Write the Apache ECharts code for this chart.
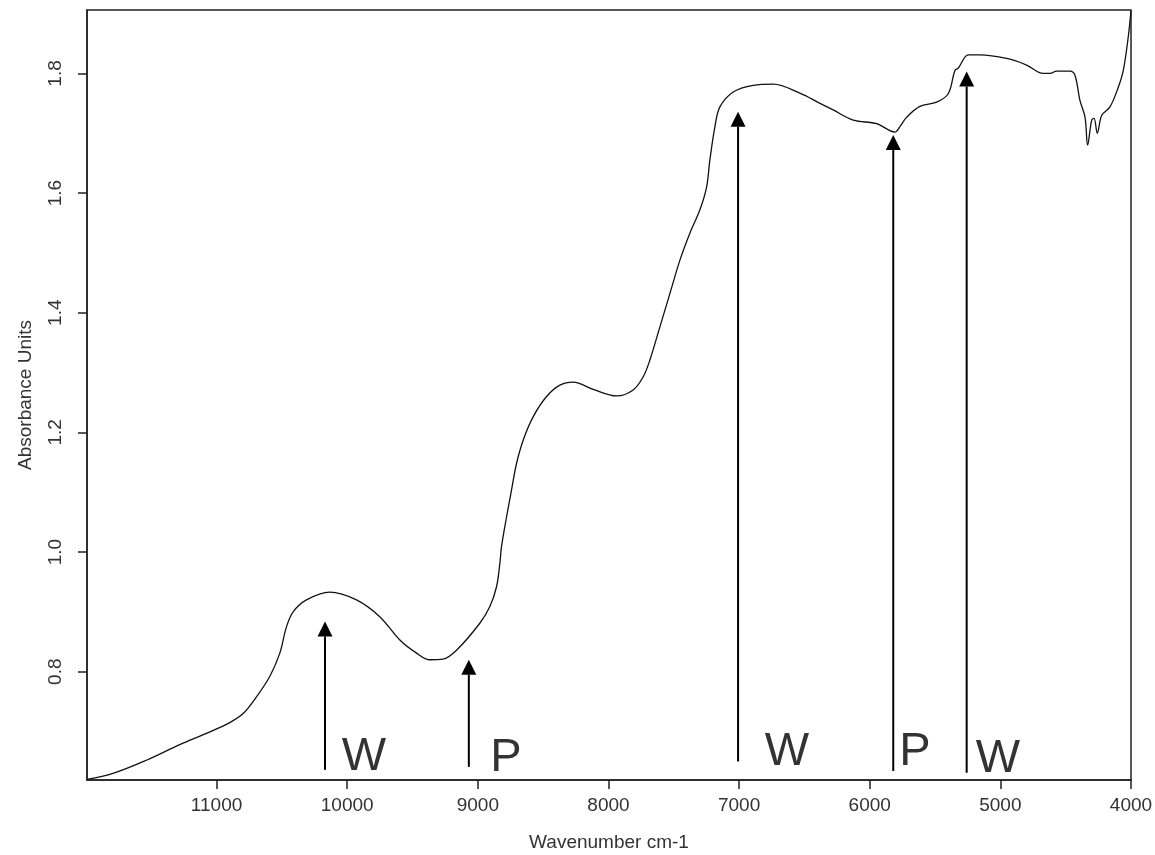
<!DOCTYPE html>
<html>
<head>
<meta charset="utf-8">
<script src="https://cdn.jsdelivr.net/npm/echarts@6/dist/echarts.min.js"></script>
<style>html,body{margin:0;padding:0;background:#fff}#c{width:1155px;height:855px}</style>
</head>
<body>
<div id="c"></div>
<script>
// Spectrum (wavenumber, absorbance)
const wavenumbers = [11992,11793,11537,11282,11078,10899,10797,10695,10593,10516,10465,10414,10312,10134,9929,9751,9597,9469,9367,9268,9163,8985,8908,8857,8831,8819,8780,8742,8704,8653,8577,8474,8372,8270,8117,7938,7811,7734,7683,7607,7530,7453,7377,7300,7249,7224,7185,7147,7045,6892,6739,6535,6381,6280,6126,5947,5807,5769,5717,5616,5488,5399,5348,5322,5246,5156,4952,4799,4672,4620,4569,4467,4429,4391,4352,4332,4301,4283,4258,4224,4161,4097,4059,4021,4000];
const absorbance = [0.620,0.630,0.652,0.678,0.697,0.715,0.730,0.758,0.792,0.831,0.875,0.900,0.920,0.933,0.920,0.892,0.853,0.831,0.820,0.821,0.836,0.881,0.909,0.942,0.982,1.009,1.059,1.104,1.148,1.187,1.226,1.260,1.279,1.284,1.272,1.261,1.271,1.293,1.321,1.376,1.432,1.488,1.533,1.572,1.610,1.655,1.711,1.744,1.769,1.780,1.782,1.767,1.750,1.739,1.722,1.716,1.702,1.711,1.727,1.745,1.752,1.766,1.805,1.809,1.831,1.831,1.825,1.814,1.800,1.800,1.804,1.804,1.797,1.755,1.727,1.680,1.722,1.725,1.700,1.730,1.744,1.777,1.805,1.861,1.905];

// Axis ticks
const xTicks = [4000,5000,6000,7000,8000,9000,10000,11000];
const yTicks = [0.8,1.0,1.2,1.4,1.6,1.8];
const xRange = [4000, 11992];
const yRange = [0.619, 1.906];

// Annotation arrows: wavenumber, base absorbance, tip absorbance
const arrowX = [10170, 9069, 7008, 5820, 5258];
const arrowBase = [0.636, 0.641, 0.650, 0.634, 0.631];
const arrowTip = [0.884, 0.820, 1.736, 1.697, 1.803];

// Annotation letters
const labelText = ['W','P','W','P','W'];
const labelX = [9873, 8786, 6634, 5654, 5018];
const labelY = [0.657, 0.656, 0.665, 0.665, 0.654];

const spectrum = wavenumbers.map((w,i)=>[w, absorbance[i]]);
const arrows = arrowX.map((x,i)=>[x, arrowBase[i], arrowTip[i]]);
const letters = labelX.map((x,i)=>({value:[x, labelY[i]], name: labelText[i]}));

const FONT = '"Liberation Sans", Arial, sans-serif';
const chart = echarts.init(document.getElementById('c'), null, {renderer:'canvas'});
chart.setOption({
  animation: false,
  backgroundColor: '#fff',
  grid: {left: 87, right: 24, top: 10, bottom: 75, containLabel: false, outerBoundsMode: 'none',
         show: true, borderColor: '#222', borderWidth: 1.5, backgroundColor: 'transparent'},
  xAxis: {
    type: 'value', inverse: true, min: xRange[0], max: xRange[1],
    name: 'Wavenumber cm-1', nameLocation: 'middle', nameGap: 53,
    nameTextStyle: {fontFamily: FONT, fontSize: 19, color: '#333'},
    axisLine: {show: true, lineStyle: {color: '#222', width: 1.5}},
    axisTick: {show: true, length: 9, customValues: xTicks, lineStyle: {color: '#222', width: 1.5}},
    axisLabel: {customValues: xTicks, margin: 16, fontFamily: FONT, fontSize: 19, color: '#333', formatter: v => String(v)},
    splitLine: {show: false}
  },
  yAxis: {
    type: 'value', min: yRange[0], max: yRange[1],
    name: 'Absorbance Units', nameLocation: 'middle', nameGap: 52,
    nameTextStyle: {fontFamily: FONT, fontSize: 19, color: '#333'},
    axisLine: {show: true, lineStyle: {color: '#222', width: 1.5}},
    axisTick: {show: true, length: 9, customValues: yTicks, lineStyle: {color: '#222', width: 1.5}},
    axisLabel: {customValues: yTicks, rotate: 90, margin: 22, fontFamily: FONT, fontSize: 19, color: '#333', formatter: v => v.toFixed(1)},
    splitLine: {show: false}
  },
  series: [
    {
      type: 'line', data: spectrum, showSymbol: false, symbol: 'none',
      smooth: 0.35,
      lineStyle: {color: '#111', width: 1.3}, silent: true, z: 3
    },
    {
      type: 'custom', data: arrows, silent: true, z: 4,
      encode: {x: 0, y: [1, 2]},
      renderItem: function (params, api) {
        const b = api.coord([api.value(0), api.value(1)]);
        const t = api.coord([api.value(0), api.value(2)]);
        const hh = 15, hw = 7.5;
        return {type: 'group', children: [
          {type: 'line', shape: {x1: b[0], y1: b[1], x2: t[0], y2: t[1] + hh}, style: {stroke: '#000', lineWidth: 2}},
          {type: 'polygon', shape: {points: [[t[0], t[1]], [t[0] - hw, t[1] + hh], [t[0] + hw, t[1] + hh]]}, style: {fill: '#000'}}
        ]};
      }
    },
    {
      type: 'scatter', data: letters, symbolSize: 0, silent: true, z: 5,
      label: {show: true, position: 'inside', formatter: p => p.name, fontFamily: FONT, fontSize: 47, color: '#000', textBorderWidth: 0}
    }
  ]
});
</script>
</body>
</html>
